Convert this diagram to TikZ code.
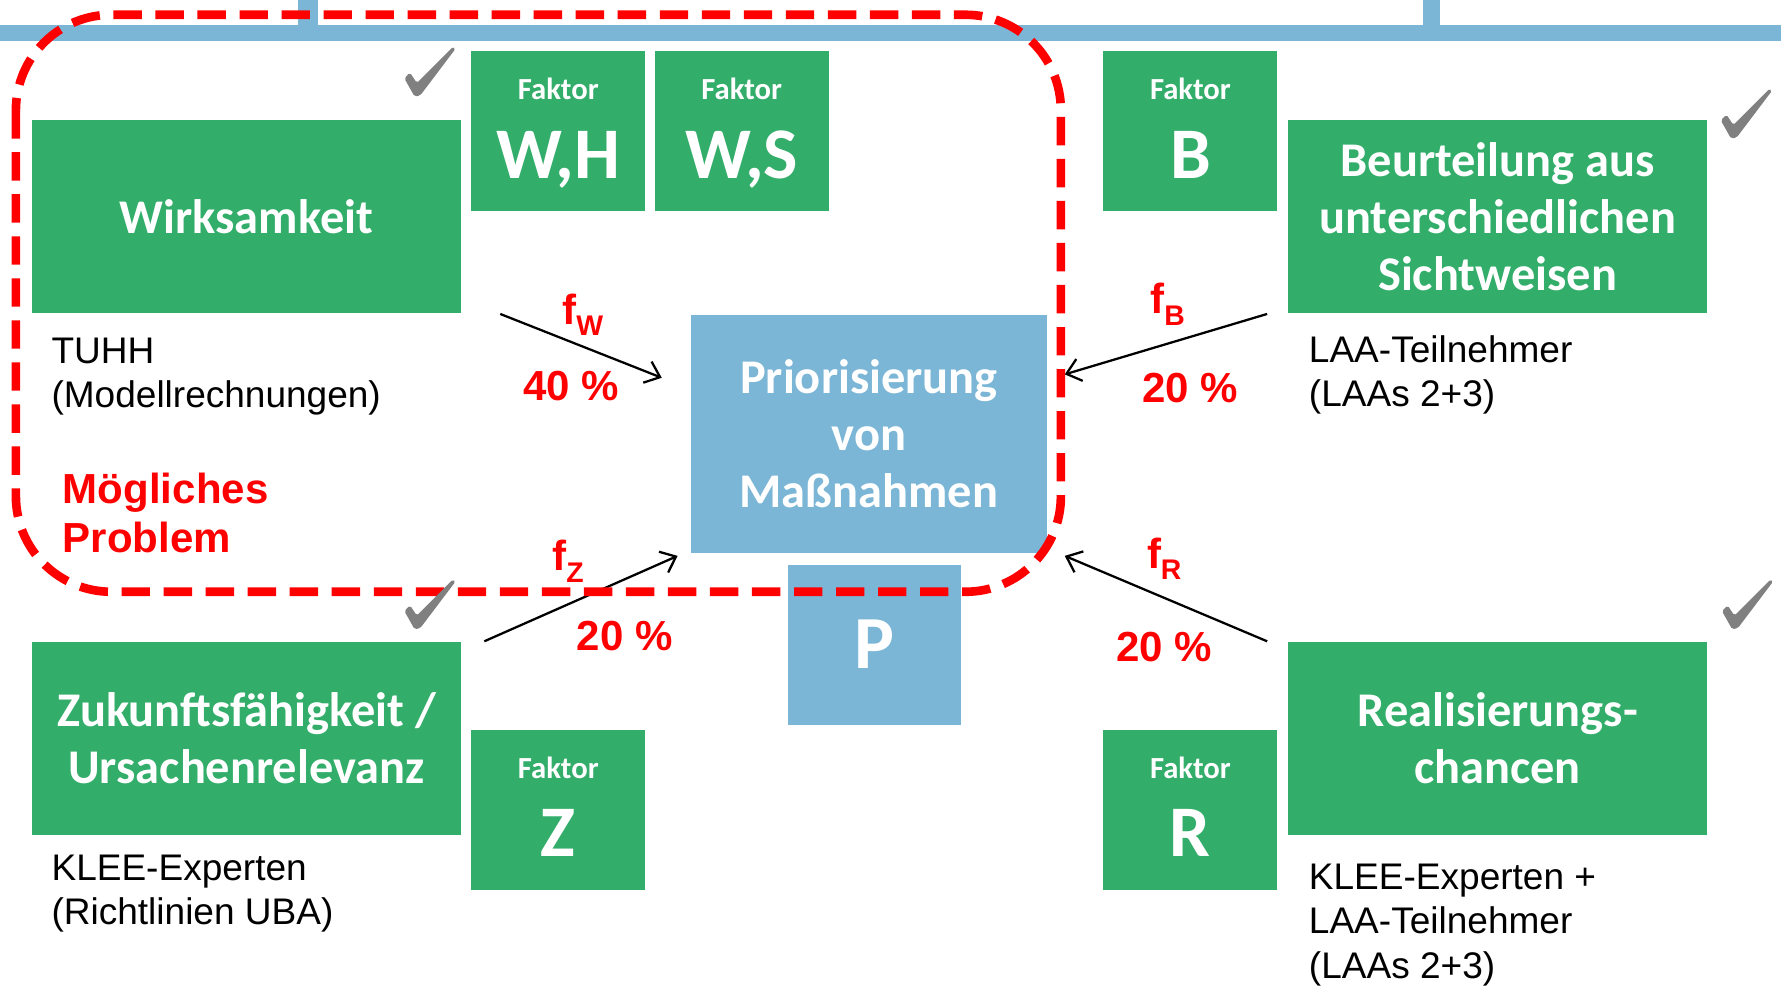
\documentclass[tikz,border=0pt]{standalone}
\usepackage{fontspec}
\setmainfont{Carlito}
\newfontfamily\arialfont{Liberation Sans}
\usetikzlibrary{arrows.meta}

\definecolor{boxgreen}{RGB}{50,173,106}
\definecolor{boxblue}{RGB}{123,182,214}
\definecolor{probred}{RGB}{255,0,0}
\definecolor{checkgray}{RGB}{128,128,128}

\tikzset{
  topic/.style={fill=boxgreen, text=white, inner sep=0pt, align=center,
    font=\bfseries\fontsize{21.3}{25}\selectfont,
    minimum width=189pt, minimum height=85pt},
  factorbox/.style={fill=boxgreen, inner sep=0pt,
    minimum width=76.5pt, minimum height=70.5pt},
  factorword/.style={text=white, inner sep=0pt, anchor=base,
    font=\bfseries\fontsize{13.5}{14}\selectfont},
  factorletter/.style={text=white, inner sep=0pt, anchor=base,
    font=\bfseries\fontsize{32}{32}\selectfont},
  hub/.style={fill=boxblue, text=white, inner sep=0pt, align=center,
    font=\bfseries\fontsize{21.3}{25}\selectfont,
    minimum width=157pt, minimum height=105pt},
  hubsmall/.style={fill=boxblue, text=white, inner sep=0pt,
    font=\bfseries\fontsize{33}{33}\selectfont,
    minimum width=76pt, minimum height=70.5pt},
  source/.style={inner sep=0pt, anchor=north west, align=left,
    font=\arialfont\fontsize{16.3}{19.6}\selectfont},
  weighttext/.style={text=probred, inner sep=0pt,
    font=\arialfont\bfseries\fontsize{18.5}{21.5}\selectfont},
  weight/.style={draw=black, line width=1pt,
    -{Straight Barb[length=6pt,width=10pt,line width=1pt]}},
  probline/.style={draw=probred, line width=3.8pt,
    dash pattern=on 12.5pt off 6pt, rounded corners=42pt},
  % grey tick, placed by its lowest point
  tickmark/.pic={
    \fill[checkgray, rounded corners=0.8pt]
      (-10,-15) -- (-5,-20) -- (1,-11) -- (33,-43) -- (35,-41)
      -- (4,0) -- (-1,1) -- cycle;
  },
}

\newcommand{\fsub}[1]{f\raisebox{-5pt}{\fontsize{12.5}{12.5}\selectfont #1}}

\begin{document}
\begin{tikzpicture}[x=0.5pt,y=-0.5pt]
\useasboundingbox (0,0) rectangle (1568,872);

% header bar with its two stubs
\fill[boxblue] (0,22) rectangle (1568,36);
\fill[boxblue] (262,0) rectangle (280,22);
\fill[boxblue] (1253,0) rectangle (1268,22);

% criteria
\node[topic] (wirk) at (217,191) {Wirksamkeit};
\node[topic, minimum width=184.5pt] (beur) at (1318.5,191) {Beurteilung aus\\unterschiedlichen\\Sichtweisen};
\node[topic] (zuk) at (217,650) {Zukunftsfähigkeit /\\Ursachenrelevanz};
\node[topic, minimum width=184.5pt] (real) at (1318.5,650) {Realisierungs-\\chancen};

% factor boxes
\node[factorbox] (fwh) at (491.5,115.5) {};
\node[factorword] (fwhw) at (491.5,88) {Faktor};
\node[factorletter] (fwhl) at (491.5,157) {W,H};

\node[factorbox] (fws) at (653,115.5) {};
\node[factorword] (fwsw) at (653,88) {Faktor};
\node[factorletter] (fwsl) at (653,157) {W,S};

\node[factorbox] (fb) at (1048,115.5) {};
\node[factorword] (fbw) at (1048,88) {Faktor};
\node[factorletter] (fbl) at (1048,157) {B};

\node[factorbox] (fz) at (491.5,713) {};
\node[factorword] (fzw) at (491.5,685) {Faktor};
\node[factorletter] (fzl) at (491.5,754) {Z};

\node[factorbox] (fr) at (1048,713) {};
\node[factorword] (frw) at (1048,685) {Faktor};
\node[factorletter] (frl) at (1048,754) {R};

% central result
\node[hub] (prio) at (765,382) {Priorisierung\\von\\Maßnahmen};
\node[hubsmall] (pbox) at (770,567.5) {P};

% sources
\node[source] (srcw) at (45,297) {TUHH\\(Modellrechnungen)};
\node[source] (srcb) at (1152,295) {LAA-Teilnehmer\\(LAAs 2+3)};
\node[source] (srcz) at (45,752) {KLEE-Experten\\(Richtlinien UBA)};
\node[source] (srcr) at (1152,760) {KLEE-Experten +\\LAA-Teilnehmer\\(LAAs 2+3)};

% weighted arrows into the central box
\coordinate (wTail) at ([xshift=17pt]wirk.south east);
\coordinate (wHead) at ([xshift=-12.5pt,yshift=-28pt]prio.north west);
\coordinate (zTail) at ([xshift=10pt]zuk.north east);
\coordinate (zHead) at ([xshift=-5.5pt,yshift=-1pt]prio.south west);
\coordinate (bTail) at ([xshift=-9pt]beur.south west);
\coordinate (bHead) at ([xshift=7.5pt,yshift=-26.5pt]prio.north east);
\coordinate (rTail) at ([xshift=-9pt]real.north west);
\coordinate (rHead) at ([xshift=7.5pt,yshift=-1pt]prio.south east);

\draw[weight] (wTail) -- (wHead);
\draw[weight] (zTail) -- (zHead);
\draw[weight] (bTail) -- (bHead);
\draw[weight] (rTail) -- (rHead);

\node[weighttext] (lw) at (513,277) {\fsub{W}};
\node[weighttext] (pw) at (503,340) {40 \%};
\node[weighttext] (lz) at (500,494) {\fsub{Z}};
\node[weighttext] (pz) at (550,560) {20 \%};
\node[weighttext] (lb) at (1028,268) {\fsub{B}};
\node[weighttext] (pb) at (1048,342) {20 \%};
\node[weighttext] (lr) at (1025,492) {\fsub{R}};
\node[weighttext] (pr) at (1025,570) {20 \%};

% possible problem area
\draw[probline] (14,13) rectangle (934,521);
\node[weighttext, anchor=north west, align=left] (prob) at (55,416) {Mögliches\\Problem};

% check marks
\pic at (366,84) {tickmark};
\pic at (1525,121) {tickmark};
\pic at (366,553) {tickmark};
\pic at (1526,553) {tickmark};
\end{tikzpicture}
\end{document}
